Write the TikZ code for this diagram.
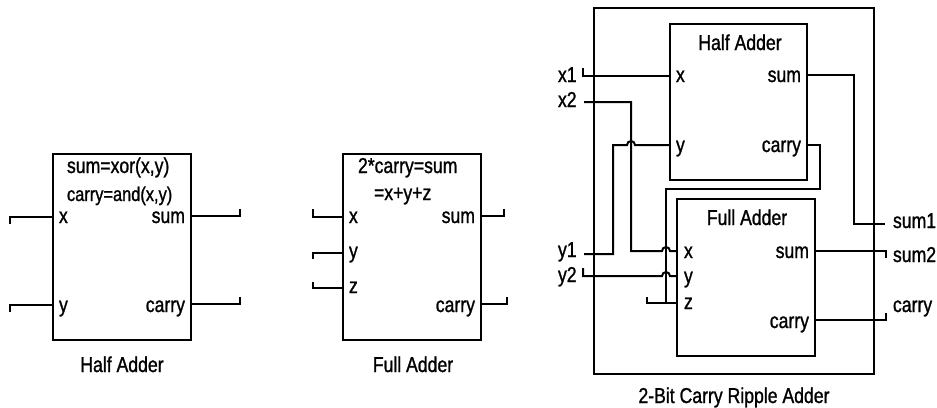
\documentclass[tikz,border=0pt]{standalone}
\usepackage{fontspec}
\setmainfont[FakeStretch=0.82,FakeBold=1.1]{Liberation Sans}
\begin{document}
\begin{tikzpicture}[x=1pt,y=-1pt,line width=2pt,
	block/.style = {draw, rectangle, outer sep=0pt, inner sep=0pt},
	lft/.style = {anchor=base west, inner sep=0pt, font=\fontsize{21.5}{24}\selectfont},
	rgt/.style = {anchor=base east, inner sep=0pt, font=\fontsize{21.5}{24}\selectfont},
	mid/.style = {anchor=base, inner sep=0pt, font=\fontsize{21.5}{24}\selectfont}]
	\useasboundingbox (0,0) rectangle (937,407);
	\node[block, minimum width=138, minimum height=186] (ha) at (122,247) {};
	\node[lft] (hat1) at (66,173) {sum=xor(x,y)};
	\node[lft, font=\fontsize{20}{24}\selectfont] (hat2) at (66,201) {carry=and(x,y)};
	\node[lft] (hax) at (58,223) {x};
	\node[lft] (hay) at (58,312) {y};
	\node[rgt] (has) at (186,223) {sum};
	\node[rgt] (hac) at (186,312) {carry};
	\node[mid] (hacap) at (122,372) {Half Adder};
	\coordinate (hain1) at (10,224);
	\coordinate (hain2) at (10,312);
	\coordinate (haout1) at (240,209);
	\coordinate (haout2) at (240,297);
	\draw[-] (hain1) |- (ha.west |- 0,217);
	\draw[-] (hain2) |- (ha.west |- 0,305);
	\draw[-] (ha.east |- 0,216) -| (haout1);
	\draw[-] (ha.east |- 0,304) -| (haout2);
	\node[block, minimum width=138, minimum height=186] (fa) at (412,247) {};
	\node[lft] (fat1) at (357,173) {2*carry=sum};
	\node[lft] (fat2) at (373,200) {=x+y+z};
	\node[lft] (fax) at (348,223) {x};
	\node[lft] (fay) at (348,258) {y};
	\node[lft] (faz) at (348,293) {z};
	\node[rgt] (fas) at (476,223) {sum};
	\node[rgt] (fac) at (476,312) {carry};
	\node[mid] (facap) at (413,372) {Full Adder};
	\coordinate (fain1) at (313,209);
	\coordinate (fain2) at (313,259);
	\coordinate (fain3) at (313,282);
	\coordinate (faout1) at (504,209);
	\coordinate (faout2) at (507,297);
	\draw[-] (fain1) |- (fa.west |- 0,217);
	\draw[-] (fain2) |- (fa.west |- 0,253);
	\draw[-] (fain3) |- (fa.west |- 0,288);
	\draw[-] (fa.east |- 0,216) -| (faout1);
	\draw[-] (fa.east |- 0,304) -| (faout2);
	\node[block, minimum width=280, minimum height=366] (rip) at (734,191) {};
	\node[block, minimum width=137, minimum height=156] (rha) at (738.5,102) {};
	\node[block, minimum width=138, minimum height=157] (rfa) at (746,277.5) {};
	\node[mid] (rhat) at (740,50) {Half Adder};
	\node[lft] (rhax) at (675,82) {x};
	\node[lft] (rhay) at (675,152) {y};
	\node[rgt] (rhas) at (802,82) {sum};
	\node[rgt] (rhac) at (802,152) {carry};
	\node[mid] (rfat) at (747,225) {Full Adder};
	\node[lft] (rfax) at (683,258) {x};
	\node[lft] (rfay) at (683,283) {y};
	\node[lft] (rfaz) at (683,309) {z};
	\node[rgt] (rfas) at (810,258) {sum};
	\node[rgt] (rfac) at (810,328) {carry};
	\node[lft] (x1) at (557,82) {x1};
	\node[lft] (x2) at (557,107) {x2};
	\node[lft] (y1) at (557,257) {y1};
	\node[lft] (y2) at (557,282) {y2};
	\node[lft] (sum1) at (892,228) {sum1};
	\node[lft] (sum2) at (892,262) {sum2};
	\node[lft] (cout) at (892,312) {carry};
	\node[mid] (ripcap) at (734,403) {2-Bit Carry Ripple Adder};
	\coordinate (x1in) at (583,68);
	\coordinate (x2in) at (584,102);
	\coordinate (y1in) at (584,254);
	\coordinate (y2in) at (583,268);
	\coordinate (zin) at (647,297);
	\coordinate (hop1) at (631,145);
	\coordinate (hop2) at (666,251);
	\coordinate (hop3) at (666,276);
	\coordinate (sum1out) at (885,224);
	\coordinate (sum2out) at (886,258);
	\coordinate (coutout) at (886,313);
	\draw[-] (x1in) |- (rha.west |- 0,76);
	\draw[-] (x2in) -| (hop1) -- (631,251) -- ([xshift=-4pt]hop2) arc[start angle=180, end angle=360, radius=4] -- (rfa.west |- 0,251);
	\draw[-] (y1in) -- (613,254) -- (613,145) -- ([xshift=-4pt]hop1) arc[start angle=180, end angle=360, radius=4] -- (rha.west |- 0,145);
	\draw[-] (y2in) |- ([xshift=-4pt]hop3) arc[start angle=180, end angle=360, radius=4] -- (rfa.west |- 0,276);
	\draw[-] (zin) |- (rfa.west |- 0,303);
	\draw[-] (rha.east |- 0,145) -- (820,145) -- (820,189) -- (666,189) -- (666,303);
	\draw[-] (rha.east |- 0,75) -- (854,75) -- (854,224) -- (sum1out);
	\draw[-] (rfa.east |- 0,251) -| (sum2out);
	\draw[-] (rfa.east |- 0,320) -| (coutout);
\end{tikzpicture}
\end{document}
